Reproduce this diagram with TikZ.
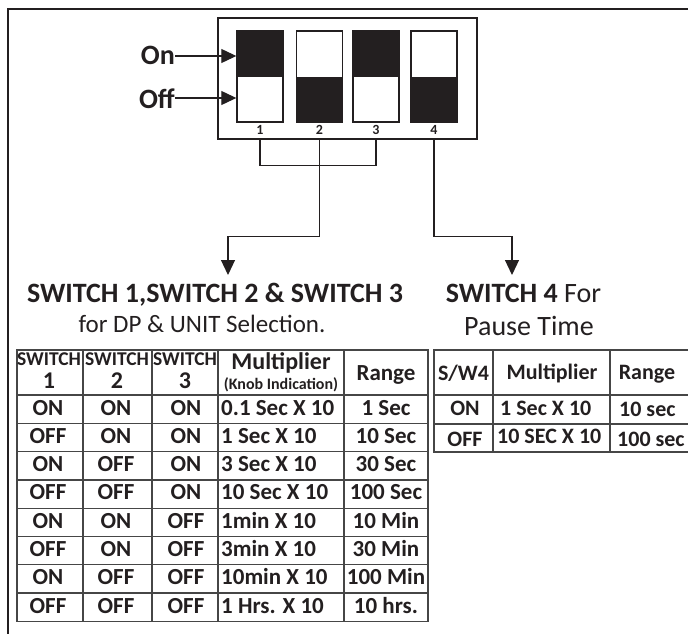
\documentclass[tikz,border=0pt]{standalone}
\usepackage{fontspec}
\setmainfont{Carlito}
\usetikzlibrary{arrows.meta,positioning}
\definecolor{ink}{RGB}{35,31,32}
\definecolor{rule}{RGB}{70,70,70}

\begin{document}
\begin{tikzpicture}[x=1pt,y=-1pt,
    conn/.style={draw=ink,line width=1.2pt},
    tip/.style={-{Triangle[length=15pt,width=14pt]}},
    grid/.style={draw=rule,line width=1.3pt},
    switch/.style={draw=ink,line width=1.4pt,minimum width=46pt,minimum height=91pt,inner sep=0pt},
    txt/.style={text=ink,inner sep=0pt,anchor=base},
    lbl/.style={txt,anchor=base east,font=\fontsize{28}{28}\selectfont\bfseries},
    num/.style={txt,font=\fontsize{14}{14}\selectfont\bfseries},
    ttl/.style={txt,font=\fontsize{28}{28}\selectfont\bfseries},
    sub/.style={txt,font=\fontsize{25}{25}\selectfont},
    cell/.style={txt,font=\fontsize{23}{23}\selectfont\bfseries},
    cellw/.style={cell,anchor=base west},
    pcell/.style={cell,font=\fontsize{22}{22}\selectfont\bfseries},
    pcellw/.style={pcell,anchor=base west}]
  \useasboundingbox (0,0) rectangle (688,634);

  % frame
  \draw[draw=ink,line width=2.3pt] (8,636) -- (8,9) -- (692,9);

  % dip switch
  \node[draw=ink,line width=1.5pt,minimum width=259pt,minimum height=121pt,inner sep=0pt] (dip) at (347.5,78.5) {};
  \foreach \i/\x/\ya/\yb in {1/260/31/77, 2/319.5/77/122, 3/376/31/77, 4/434/77/122} {
    \fill[ink] (\x-23,\ya) rectangle (\x+23,\yb);
    \node[switch] (sw\i) at (\x,76.5) {};
    \node[num] (n\i) at (\x,134) {\i};
  }

  \node[lbl] (on) at (175,65) {On};
  \node[lbl] (off) at (175,108) {Off};
  \draw[conn,tip] (on.east |- 0,56) -- (sw1.west |- 0,56);
  \draw[conn,tip] (off.east |- 0,98) -- (sw1.west |- 0,98);

  % connectors
  \coordinate (in123) at (228,275);
  \coordinate (in4) at (512,275);
  \draw[conn] (dip.south -| n1) -- ++(0,26) -| (dip.south -| n3);
  \draw[conn,tip] (dip.south -| n2) -- ++(0,97) -| (in123);
  \draw[conn,tip] (dip.south -| n4) -- ++(0,97) -| (in4);

  % headings
  \node[ttl] (t123) at (215,302) {SWITCH 1,SWITCH 2 \& SWITCH 3};
  \node[sub] (s123) at (202,332) {for DP \& UNIT Selection.};
  \node[ttl] (t4) at (523.5,302) {SWITCH 4 \textmd{For}};
  \node[ttl,font=\fontsize{28}{28}\selectfont] (s4) at (529,335) {Pause Time};

  % table for switch 1-3
  \draw[grid] (17,350) rectangle (428,621.4);
  \foreach \x in {83,152,218,344} \draw[grid] (\x,350) -- (\x,621.4);
  \foreach \k in {0,...,7} \draw[grid] (17,395+28.3*\k) -- (428,395+28.3*\k);
  \foreach \i/\x in {1/49,2/117,3/185} {
    \node[txt,font=\fontsize{19.5}{19.5}\selectfont\bfseries] (h\i) at (\x,365) {SWITCH};
    \node[txt,font=\fontsize{24}{24}\selectfont\bfseries] (hn\i) at (\x,388) {\i};
  }
  \node[txt,font=\fontsize{24}{24}\selectfont\bfseries] (hm) at (281,369) {Multiplier};
  \node[txt,font=\fontsize{16}{16}\selectfont\bfseries] (hk) at (281,389) {(Knob Indication)};
  \node[txt,font=\fontsize{23}{23}\selectfont\bfseries] (hr) at (386,380) {Range};
  \foreach \a/\b/\c/\m/\r [count=\k from 0] in {
      ON/ON/ON/0.1 Sec X 10/1 Sec,
      OFF/ON/ON/1 Sec X 10/10 Sec,
      ON/OFF/ON/3 Sec X 10/30 Sec,
      OFF/OFF/ON/10 Sec X 10/100 Sec,
      ON/ON/OFF/1min X 10/10 Min,
      OFF/ON/OFF/3min X 10/30 Min,
      ON/OFF/OFF/10min X 10/100 Min,
      OFF/OFF/OFF/1 Hrs. X 10/10 hrs.} {
    \node[cell] (a\k) at (48,415+28.3*\k) {\a};
    \node[cell] (b\k) at (116,415+28.3*\k) {\b};
    \node[cell] (c\k) at (186,415+28.3*\k) {\c};
    \node[cellw] (m\k) at (221,415+28.3*\k) {\m};
    \node[cell] (r\k) at (386,415+28.3*\k) {\r};
  }

  % table for switch 4
  \draw[grid] (434,350) rectangle (692,452);
  \foreach \x in {493,610} \draw[grid] (\x,350) -- (\x,452);
  \foreach \y in {395,424} \draw[grid] (434,\y) -- (692,\y);
  \node[pcell] (q0) at (463.5,380) {S/W4};
  \node[pcell] (q1) at (552,379) {Multiplier};
  \node[pcell] (q2) at (647,379) {Range};
  \node[pcell] (p1) at (465,415) {ON};
  \node[pcellw] (pm1) at (500,415) {1 Sec X 10};
  \node[pcellw] (pr1) at (619,416) {10 sec};
  \node[pcell] (p2) at (465,446) {OFF};
  \node[pcellw] (pm2) at (497,443) {10 SEC X 10};
  \node[pcellw] (pr2) at (617,446) {100 sec};
\end{tikzpicture}
\end{document}
